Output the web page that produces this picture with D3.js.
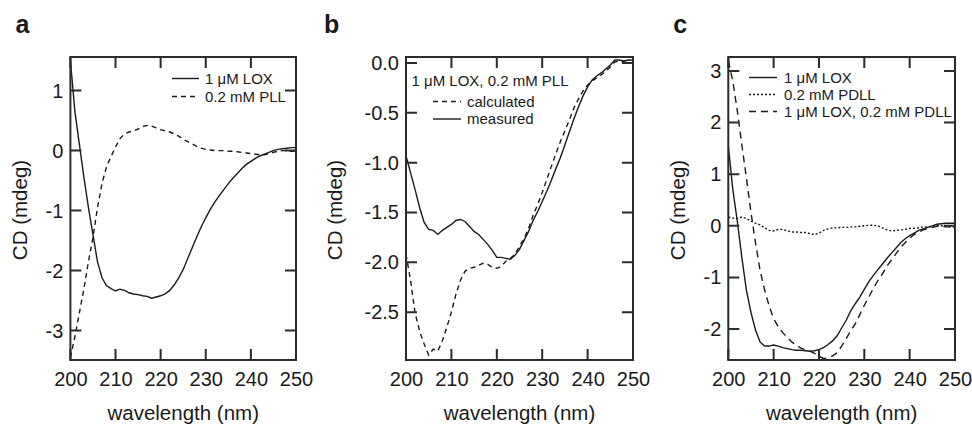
<!DOCTYPE html>
<html>
<head>
<meta charset="utf-8">
<script src="https://cdn.jsdelivr.net/npm/d3@7"></script>
<style>
body { margin: 0; background: #fff; }
text { font-family: "Liberation Sans", Arial, sans-serif; }
</style>
</head>
<body>
<div class="chart"></div>
<script>
const width = 972
const height = 425

// wavelength grid (nm)
const wavelength = [200, 201, 202, 203, 204, 205, 206, 207, 208, 209,
  210, 211, 212, 213, 214, 215, 216, 217, 218, 219,
  220, 221, 222, 223, 224, 225, 226, 227, 228, 229,
  230, 231, 232, 233, 234, 235, 236, 237, 238, 239,
  240, 241, 242, 243, 244, 245, 246, 247, 248, 249, 250]

// panel a
const loxA = [1.50, 0.65, 0.10, -0.45, -0.95, -1.40, -1.85, -2.12, -2.25, -2.30,
  -2.34, -2.31, -2.33, -2.37, -2.39, -2.40, -2.42, -2.43, -2.46, -2.44,
  -2.42, -2.39, -2.33, -2.24, -2.12, -1.98, -1.80, -1.62, -1.44, -1.27,
  -1.12, -0.98, -0.86, -0.75, -0.65, -0.55, -0.46, -0.38, -0.30, -0.23,
  -0.18, -0.13, -0.09, -0.06, -0.03, 0.00, 0.02, 0.03, 0.04, 0.05, 0.05]
const pllA = [-3.45, -3.10, -2.70, -2.30, -1.85, -1.45, -0.95, -0.55, -0.27, -0.10,
  0.06, 0.20, 0.28, 0.31, 0.33, 0.36, 0.40, 0.42, 0.41, 0.38,
  0.35, 0.33, 0.31, 0.28, 0.24, 0.19, 0.15, 0.11, 0.07, 0.04,
  0.02, 0.01, 0.00, 0.00, 0.00, -0.01, -0.01, -0.02, -0.03, -0.04,
  -0.05, -0.06, -0.07, -0.07, -0.05, -0.03, -0.01, 0.00, 0.00, -0.01, -0.01]

// panel b
const measuredB = [-0.93, -1.10, -1.27, -1.45, -1.60, -1.67, -1.68, -1.72, -1.68, -1.65,
  -1.62, -1.58, -1.57, -1.59, -1.64, -1.69, -1.72, -1.77, -1.82, -1.88,
  -1.95, -1.95, -1.96, -1.97, -1.93, -1.87, -1.78, -1.69, -1.58, -1.49,
  -1.39, -1.29, -1.18, -1.06, -0.95, -0.82, -0.69, -0.56, -0.44, -0.33,
  -0.24, -0.17, -0.13, -0.10, -0.06, -0.02, 0.03, 0.03, 0.02, 0.03, 0.03]
const calculatedB = [-1.92, -2.18, -2.51, -2.69, -2.82, -2.93, -2.87, -2.89, -2.79, -2.65,
  -2.50, -2.32, -2.18, -2.09, -2.06, -2.05, -2.03, -2.01, -2.02, -2.05,
  -2.06, -2.04, -1.99, -1.96, -1.92, -1.84, -1.76, -1.66, -1.53, -1.42,
  -1.30, -1.17, -1.04, -0.91, -0.79, -0.68, -0.57, -0.45, -0.36, -0.28,
  -0.22, -0.18, -0.15, -0.12, -0.08, -0.04, 0.01, 0.02, 0.01, 0.00, 0.00]

// panel c
const loxC = [1.55, 0.70, 0.08, -0.62, -1.25, -1.68, -2.02, -2.25, -2.33, -2.33,
  -2.31, -2.33, -2.36, -2.38, -2.40, -2.41, -2.41, -2.42, -2.43, -2.42,
  -2.40, -2.36, -2.30, -2.23, -2.13, -1.98, -1.83, -1.65, -1.51, -1.38,
  -1.23, -1.08, -0.96, -0.85, -0.74, -0.63, -0.53, -0.43, -0.33, -0.25,
  -0.19, -0.14, -0.09, -0.06, -0.03, 0.00, 0.03, 0.04, 0.05, 0.05, 0.05]
const pdllC = [0.17, 0.15, 0.14, 0.17, 0.14, 0.09, 0.05, 0.02, -0.04, -0.09,
  -0.10, -0.07, -0.07, -0.10, -0.12, -0.12, -0.13, -0.13, -0.15, -0.17,
  -0.14, -0.09, -0.06, -0.04, -0.04, -0.03, -0.03, -0.02, -0.02, -0.01,
  0.00, 0.01, 0.01, 0.00, -0.04, -0.08, -0.10, -0.09, -0.08, -0.07,
  -0.05, -0.05, -0.04, -0.02, -0.02, -0.01, 0.00, 0.00, -0.01, -0.02, -0.03]
const mixC = [3.20, 2.80, 2.22, 1.56, 0.92, 0.26, -0.33, -0.86, -1.24, -1.55,
  -1.80, -1.95, -2.07, -2.16, -2.25, -2.31, -2.37, -2.40, -2.43, -2.47,
  -2.53, -2.57, -2.56, -2.52, -2.46, -2.33, -2.19, -2.03, -1.90, -1.72,
  -1.54, -1.38, -1.21, -1.06, -0.93, -0.78, -0.66, -0.54, -0.42, -0.33,
  -0.24, -0.17, -0.12, -0.08, -0.05, -0.03, -0.01, -0.01, -0.02, -0.02, -0.02]

const xTicks = [200, 210, 220, 230, 240, 250]
const yTicksA = [-3, -2, -1, 0, 1]
const yTicksB = [-2.5, -2, -1.5, -1, -0.5, 0]
const yTicksC = [-2, -1, 0, 1, 2, 3]

const ink = '#1a1a1a'
const frameColor = '#2b2b2b'
const plotTop = 57, plotBottom = 360
const tickLen = 11

const panels = [
  {label: 'a', left: 70.4, right: 296, yDomain: [-3.49, 1.56], yTicks: yTicksA, fmt: d => String(d),
    titleX: 27,
    series: [{values: loxA, dash: null}, {values: pllA, dash: '5,4'}],
    legend: {x1: 172, x2: 199, tx: 205, rows: [
      {y: 78.5, text: '1 μM LOX', dash: null},
      {y: 96.5, text: '0.2 mM PLL', dash: '5,4'}]}},
  {label: 'b', left: 406, right: 633, yDomain: [-2.98, 0.06], yTicks: yTicksB, fmt: d => d.toFixed(1),
    titleX: 342,
    series: [{values: calculatedB, dash: '5,4'}, {values: measuredB, dash: null}],
    legend: {x1: 433, x2: 461, tx: 467, head: {x: 411.5, y: 80.5, text: '1 μM LOX, 0.2 mM PLL'}, rows: [
      {y: 101.5, text: 'calculated', dash: '5,4'},
      {y: 119, text: 'measured', dash: null}]}},
  {label: 'c', left: 728.3, right: 955, yDomain: [-2.60, 3.27], yTicks: yTicksC, fmt: d => String(d),
    titleX: 685,
    series: [{values: loxC, dash: null}, {values: pdllC, dash: '2,2'}, {values: mixC, dash: '7,5'}],
    legend: {x1: 749, x2: 777, tx: 784, rows: [
      {y: 77.5, text: '1 μM LOX', dash: null},
      {y: 94.5, text: '0.2 mM PDLL', dash: '2,2'},
      {y: 111.5, text: '1 μM LOX, 0.2 mM PDLL', dash: '7,5'}]}}
]

const svg = d3.select('.chart').append('svg')
  .attr('width', width)
  .attr('height', height)
  .attr('viewBox', [0, 0, width, height])

panels.forEach((p, pi) => {
  const x = d3.scaleLinear().domain([200, 250]).range([p.left, p.right])
  const y = d3.scaleLinear().domain(p.yDomain).range([plotBottom, plotTop])

  const g = svg.append('g')

  // panel letter
  g.append('text')
    .attr('x', p.left - (pi === 1 ? 82 : 55))
    .attr('y', 33)
    .attr('font-size', 25)
    .attr('font-weight', 'bold')
    .attr('fill', ink)
    .text(p.label)

  const clipId = 'clip' + p.label
  g.append('clipPath').attr('id', clipId)
    .append('rect')
    .attr('x', p.left).attr('y', plotTop)
    .attr('width', p.right - p.left).attr('height', plotBottom - plotTop)

  const line = d3.line()
    .x((d, i) => x(wavelength[i]))
    .y(d => y(d))

  g.append('g')
    .attr('clip-path', `url(#${clipId})`)
    .selectAll('path')
    .data(p.series)
    .join('path')
    .attr('d', s => line(s.values))
    .attr('fill', 'none')
    .attr('stroke', ink)
    .attr('stroke-width', 1.4)
    .attr('stroke-dasharray', s => s.dash)

  // tick labels from d3 axes
  const styleAxis = sel => {
    sel.attr('font-size', 20)
      .attr('font-family', '"Liberation Sans", Arial, sans-serif')
      .attr('color', ink)
    sel.select('.domain').remove()
    sel.selectAll('.tick line').remove()
  }
  g.append('g')
    .attr('transform', `translate(${p.left},0)`)
    .call(d3.axisLeft(y).tickValues(p.yTicks).tickSize(0).tickPadding(7).tickFormat(p.fmt))
    .call(styleAxis)
  g.append('g')
    .attr('transform', `translate(0,${plotBottom})`)
    .call(d3.axisBottom(x).tickValues(xTicks).tickSize(0).tickPadding(12).tickFormat(d => String(d)))
    .call(styleAxis)

  // inward ticks on all four sides, one path
  const tickPath = d3.path()
  p.yTicks.forEach(v => {
    tickPath.moveTo(p.left, y(v)); tickPath.lineTo(p.left + tickLen, y(v))
    tickPath.moveTo(p.right - tickLen, y(v)); tickPath.lineTo(p.right, y(v))
  })
  xTicks.forEach(v => {
    tickPath.moveTo(x(v), plotBottom); tickPath.lineTo(x(v), plotBottom - tickLen)
    tickPath.moveTo(x(v), plotTop); tickPath.lineTo(x(v), plotTop + tickLen)
  })
  g.append('path')
    .attr('d', tickPath.toString())
    .attr('fill', 'none')
    .attr('stroke', frameColor)
    .attr('stroke-width', 2)

  // frame
  g.append('rect')
    .attr('x', p.left).attr('y', plotTop)
    .attr('width', p.right - p.left).attr('height', plotBottom - plotTop)
    .attr('fill', 'none')
    .attr('stroke', frameColor)
    .attr('stroke-width', 2)

  // axis titles
  g.append('text')
    .attr('x', (p.left + p.right) / 2)
    .attr('y', 420)
    .attr('text-anchor', 'middle')
    .attr('font-size', 20.5)
    .attr('fill', ink)
    .text('wavelength (nm)')
  g.append('text')
    .attr('transform', `translate(${p.titleX},210) rotate(-90)`)
    .attr('text-anchor', 'middle')
    .attr('font-size', 20.5)
    .attr('fill', ink)
    .text('CD (mdeg)')

  // legend
  const lg = p.legend
  if (lg.head) {
    g.append('text')
      .attr('x', lg.head.x).attr('y', lg.head.y + 5.3)
      .attr('font-size', 15).attr('fill', ink)
      .text(lg.head.text)
  }
  const rows = g.append('g').selectAll('g')
    .data(lg.rows)
    .join('g')
  rows.append('line')
    .attr('x1', lg.x1).attr('x2', lg.x2)
    .attr('y1', r => r.y).attr('y2', r => r.y)
    .attr('stroke', ink)
    .attr('stroke-width', 1.4)
    .attr('stroke-dasharray', r => r.dash)
  rows.append('text')
    .attr('x', lg.tx)
    .attr('y', r => r.y + 5.3)
    .attr('font-size', 15)
    .attr('fill', ink)
    .text(r => r.text)
})
</script>
</body>
</html>
